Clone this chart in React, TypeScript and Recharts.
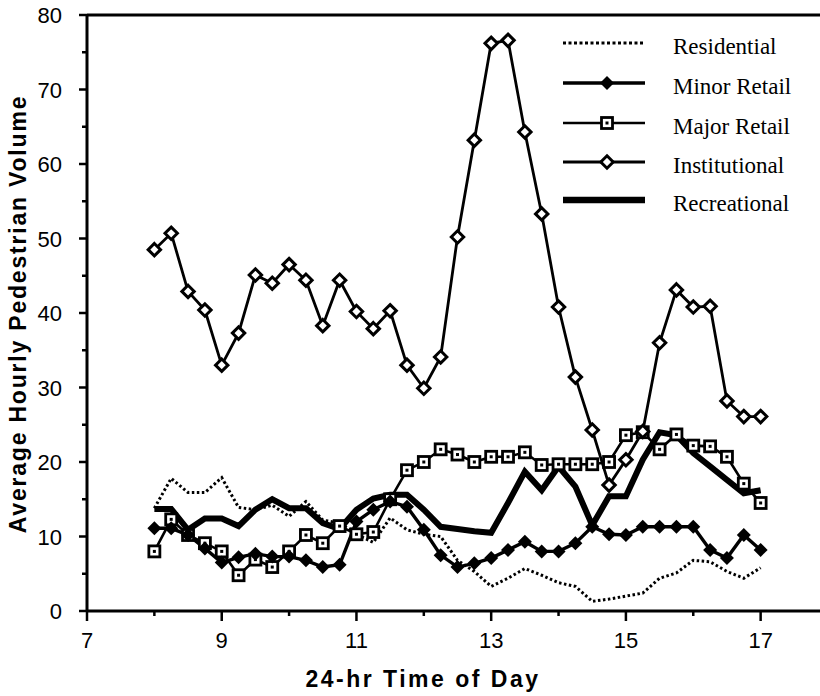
import React from 'react';
import { LineChart, Line, XAxis, YAxis, ReferenceLine } from 'recharts';

// time of day, every 15 minutes from 8:00 to 17:00
const hours = [8, 8.25, 8.5, 8.75, 9, 9.25, 9.5, 9.75, 10, 10.25, 10.5, 10.75, 11, 11.25, 11.5, 11.75, 12, 12.25, 12.5, 12.75, 13, 13.25, 13.5, 13.75, 14, 14.25, 14.5, 14.75, 15, 15.25, 15.5, 15.75, 16, 16.25, 16.5, 16.75, 17];

const residential = [13.8, 17.8, 15.9, 15.9, 17.9, 13.9, 13.6, 14.2, 12.7, 14.7, 12.2, 11.8, 10.3, 9.2, 12.5, 10.9, 10.3, 10.0, 6.8, 5.3, 3.3, 4.4, 5.7, 4.8, 3.8, 3.3, 1.3, 1.6, 2.0, 2.4, 4.4, 5.1, 6.8, 6.6, 5.3, 4.4, 5.8];
const minorRetail = [11.1, 11.1, 10.2, 8.4, 6.5, 7.2, 7.7, 7.3, 7.3, 6.8, 5.9, 6.2, 12.0, 13.6, 14.7, 14.0, 10.9, 7.5, 5.9, 6.4, 7.1, 8.2, 9.3, 8.0, 8.0, 9.1, 11.3, 10.3, 10.2, 11.3, 11.3, 11.3, 11.3, 8.2, 7.1, 10.2, 8.2];
const majorRetail = [8.0, 12.3, 10.2, 9.1, 8.0, 4.8, 6.9, 5.9, 8.0, 10.2, 9.1, 11.4, 10.3, 10.6, 15.0, 18.9, 20.0, 21.7, 21.0, 20.0, 20.7, 20.7, 21.3, 19.6, 19.7, 19.7, 19.7, 20.0, 23.6, 24.0, 21.7, 23.7, 22.2, 22.1, 20.7, 17.1, 14.5];
const institutional = [48.5, 50.7, 42.9, 40.4, 33.0, 37.3, 45.1, 44.0, 46.5, 44.4, 38.3, 44.4, 40.2, 37.9, 40.3, 33.0, 29.9, 34.1, 50.2, 63.2, 76.2, 76.6, 64.3, 53.3, 40.8, 31.4, 24.3, 16.9, 20.3, 24.1, 36.0, 43.1, 40.8, 40.9, 28.2, 26.1, 26.1];
const recreational = [13.7, 13.7, 10.9, 12.4, 12.4, 11.4, 13.6, 15.0, 13.8, 13.8, 11.8, 11.0, 13.6, 15.1, 15.6, 15.6, 13.6, 11.3, 11.0, 10.7, 10.5, 14.5, 18.7, 16.2, 19.4, 16.7, 11.5, 15.4, 15.4, 20.3, 24.0, 23.6, 21.2, 19.4, 17.6, 15.8, 16.2];

const xTicks = [7, 8, 9, 10, 11, 12, 13, 14, 15, 16, 17, 18];
const yTicks = [0, 5, 10, 15, 20, 25, 30, 35, 40, 45, 50, 55, 60, 65, 70, 75, 80];

const data = hours.map((h, i) => ({
  hour: h,
  residential: residential[i],
  minorRetail: minorRetail[i],
  majorRetail: majorRetail[i],
  institutional: institutional[i],
  recreational: recreational[i],
}));

const SANS = '"Liberation Sans", Arial, Helvetica, sans-serif';
const SERIF = '"Liberation Serif", "Times New Roman", serif';

const diamond = (cx: number, cy: number, r: number) =>
  `${cx},${cy - r} ${cx + r},${cy} ${cx},${cy + r} ${cx - r},${cy}`;

const FilledDiamond = (props: any) => {
  const { cx, cy, index } = props;
  if (cx == null || cy == null) return <g key={index} />;
  return <polygon key={index} points={diamond(cx, cy, 7)} fill="#000" />;
};

const OpenDiamond = (props: any) => {
  const { cx, cy, index } = props;
  if (cx == null || cy == null) return <g key={index} />;
  return <polygon key={index} points={diamond(cx, cy, 6.2)} fill="#fff" stroke="#000" strokeWidth={3} />;
};

const OpenSquare = (props: any) => {
  const { cx, cy, index } = props;
  if (cx == null || cy == null) return <g key={index} />;
  return (
    <g key={index}>
      <rect x={cx - 5.5} y={cy - 5.5} width={11} height={11} fill="#fff" stroke="#000" strokeWidth={2.8} />
      <rect x={cx - 1.5} y={cy - 1.5} width={3} height={3} fill="#000" />
    </g>
  );
};

const XTick = ({ x, y, payload }: any) => {
  const v = payload.value;
  const major = v % 2 === 1;
  return (
    <g>
      <line x1={x} x2={x} y1={y} y2={y + (major ? 10 : 5)} stroke="#000" strokeWidth={2.5} />
      {major && (
        <text x={x} y={y + 37} textAnchor="middle" fontSize={22} fontFamily={SANS} fill="#000">
          {v}
        </text>
      )}
    </g>
  );
};

const YTick = ({ x, y, payload }: any) => {
  const v = payload.value;
  const major = v % 10 === 0;
  return (
    <g>
      <line x1={x - (major ? 8 : 5)} x2={x} y1={y} y2={y} stroke="#000" strokeWidth={2.5} />
      {major && (
        <text x={x - 25} y={y + 8} textAnchor="end" fontSize={22} fontFamily={SANS} fill="#000">
          {v}
        </text>
      )}
    </g>
  );
};

const XTitle = () => (
  <text x={423} y={687} textAnchor="middle" fontSize={23} fontWeight="bold" letterSpacing={2.5} fontFamily={SANS} fill="#000">
    24-hr Time of Day
  </text>
);

const YTitle = () => (
  <text x={26} y={314} transform="rotate(-90 26 314)" textAnchor="middle" fontSize={23} fontWeight="bold" letterSpacing={1.8} fontFamily={SANS} fill="#000">
    Average Hourly Pedestrian Volume
  </text>
);

const legendRows = [
  { name: 'Residential', kind: 'dotted' },
  { name: 'Minor Retail', kind: 'filled' },
  { name: 'Major Retail', kind: 'square' },
  { name: 'Institutional', kind: 'diamond' },
  { name: 'Recreational', kind: 'thick' },
];
const legendLineY = [18, 58, 98, 137, 175];

const LegendBox = () => (
  <svg width={265} height={200} style={{ display: 'block' }}>
    {legendRows.map((row, i) => {
      const y = legendLineY[i];
      return (
        <g key={row.name}>
          {row.kind === 'dotted' && (
            <line x1={8} x2={90} y1={y} y2={y} stroke="#000" strokeWidth={3} strokeDasharray="3 2.5" />
          )}
          {row.kind === 'filled' && (
            <>
              <line x1={8} x2={90} y1={y} y2={y} stroke="#000" strokeWidth={3.4} />
              <polygon points={diamond(52, y, 7)} fill="#000" />
            </>
          )}
          {row.kind === 'square' && (
            <>
              <line x1={8} x2={90} y1={y} y2={y} stroke="#000" strokeWidth={2.6} />
              <rect x={46.5} y={y - 5.5} width={11} height={11} fill="#fff" stroke="#000" strokeWidth={2.8} />
              <rect x={50.5} y={y - 1.5} width={3} height={3} fill="#000" />
            </>
          )}
          {row.kind === 'diamond' && (
            <>
              <line x1={8} x2={90} y1={y} y2={y} stroke="#000" strokeWidth={2.8} />
              <polygon points={diamond(52, y, 6.2)} fill="#fff" stroke="#000" strokeWidth={3} />
            </>
          )}
          {row.kind === 'thick' && (
            <line x1={8} x2={90} y1={y} y2={y} stroke="#000" strokeWidth={6.5} />
          )}
          <text x={118} y={y + 11} fontSize={23} fontFamily={SERIF} fill="#000">
            {row.name}
          </text>
        </g>
      );
    })}
  </svg>
);

export default function App() {
  return (
    <div style={{ position: 'absolute', left: 0, top: 0, width: 820, height: 696, overflow: 'hidden', background: '#fff' }}>
      <LineChart width={828} height={696} data={data} margin={{ top: 15, right: 0, bottom: 0, left: 0 }}>
        <XAxis
          dataKey="hour"
          type="number"
          domain={[7, 18]}
          ticks={xTicks}
          interval={0}
          height={85}
          tickSize={0}
          tickMargin={0}
          tickLine={false}
          tick={<XTick />}
          axisLine={{ stroke: '#000', strokeWidth: 3 }}
          label={{ content: () => <XTitle /> }}
        />
        <YAxis
          type="number"
          domain={[0, 80]}
          ticks={yTicks}
          interval={0}
          width={87}
          tickSize={0}
          tickMargin={0}
          tickLine={false}
          tick={<YTick />}
          axisLine={{ stroke: '#000', strokeWidth: 3 }}
          label={{ content: () => <YTitle /> }}
        />
        <ReferenceLine y={80} stroke="#000" strokeWidth={3} />
        <Line dataKey="residential" type="linear" stroke="#000" strokeWidth={3} strokeDasharray="2.5 2.5" dot={false} activeDot={false} isAnimationActive={false} />
        <Line dataKey="recreational" type="linear" stroke="#000" strokeWidth={6} dot={false} activeDot={false} isAnimationActive={false} />
        <Line dataKey="majorRetail" type="linear" stroke="#000" strokeWidth={2.6} dot={OpenSquare} activeDot={false} isAnimationActive={false} />
        <Line dataKey="minorRetail" type="linear" stroke="#000" strokeWidth={3.4} dot={FilledDiamond} activeDot={false} isAnimationActive={false} />
        <Line dataKey="institutional" type="linear" stroke="#000" strokeWidth={2.8} dot={OpenDiamond} activeDot={false} isAnimationActive={false} />
      </LineChart>
      <div style={{ position: 'absolute', left: 555, top: 25 }}>
        <LegendBox />
      </div>
    </div>
  );
}
